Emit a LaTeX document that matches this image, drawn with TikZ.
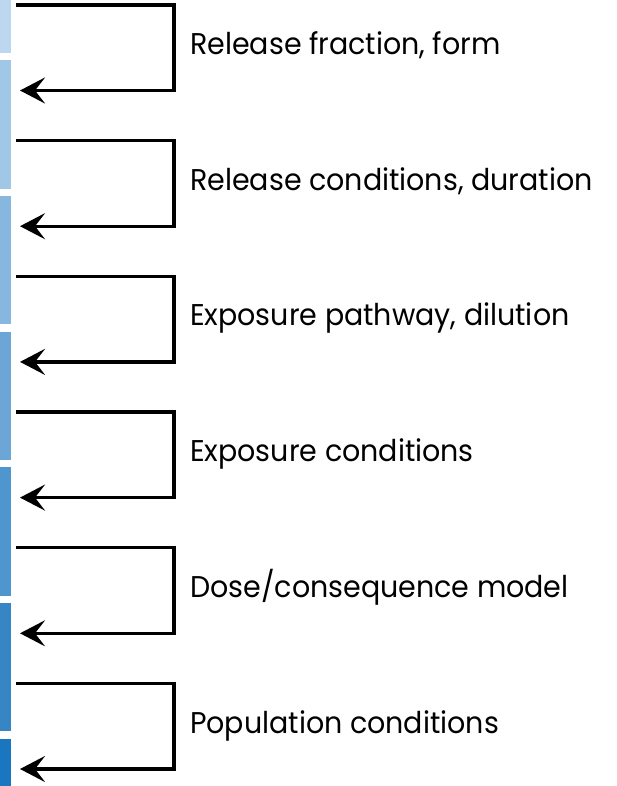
\documentclass[tikz,border=0pt]{standalone}
\usepackage{fontspec}
\setmainfont{Poppins}[FakeStretch=0.95]
\usetikzlibrary{arrows.meta}
\definecolor{barlight}{RGB}{189,215,238}
\definecolor{bardark}{RGB}{26,118,190}
\tikzset{>={Stealth[length=25pt,width=26pt,inset=10pt]}}
\tikzset{
  loopback/.style={->,line width=3.3pt},
  factor/.style={anchor=base west,inner sep=0pt,font=\fontsize{30}{36}\selectfont},
}

\begin{document}
\begin{tikzpicture}[x=1pt,y=-1pt]
    \useasboundingbox (0,0) rectangle (616,786);
    % stages down the left edge
    \fill[color=barlight] (0,0) rectangle (11,52.9);
    \fill[color=bardark!17!barlight] (0,60.1) rectangle (11,188.6);
    \fill[color=bardark!33!barlight] (0,195.8) rectangle (11,324.3);
    \fill[color=bardark!50!barlight] (0,331.5) rectangle (11,460);
    \fill[color=bardark!67!barlight] (0,467.2) rectangle (11,595.7);
    \fill[color=bardark!83!barlight] (0,602.9) rectangle (11,731.4);
    \fill[color=bardark] (0,738.6) rectangle (11,786);
    % ends of the loops
    \coordinate (r1) at (16,5);     \coordinate (a1) at (20,90.5);
    \coordinate (r2) at (16,140.7); \coordinate (a2) at (20,226.2);
    \coordinate (r3) at (16,276.4); \coordinate (a3) at (20,361.9);
    \coordinate (r4) at (16,412.1); \coordinate (a4) at (20,497.6);
    \coordinate (r5) at (16,547.8); \coordinate (a5) at (20,633.3);
    \coordinate (r6) at (16,683.5); \coordinate (a6) at (20,769);
    \draw[loopback] (r1) -- ++(158,0) |- (a1);
    \draw[loopback] (r2) -- ++(158,0) |- (a2);
    \draw[loopback] (r3) -- ++(158,0) |- (a3);
    \draw[loopback] (r4) -- ++(158,0) |- (a4);
    \draw[loopback] (r5) -- ++(158,0) |- (a5);
    \draw[loopback] (r6) -- ++(158,0) |- (a6);
    % what each loop stands for
    \node[factor] (lbl1) at (190,54.5) {Release fraction, form};
    \node[factor] (lbl2) at (190,190.2) {Release conditions, duration};
    \node[factor] (lbl3) at (190,325.9) {Exposure pathway, dilution};
    \node[factor] (lbl4) at (190,461.6) {Exposure conditions};
    \node[factor] (lbl5) at (190,597.3) {Dose/consequence model};
    \node[factor] (lbl6) at (190,733) {Population conditions};
\end{tikzpicture}
\end{document}
